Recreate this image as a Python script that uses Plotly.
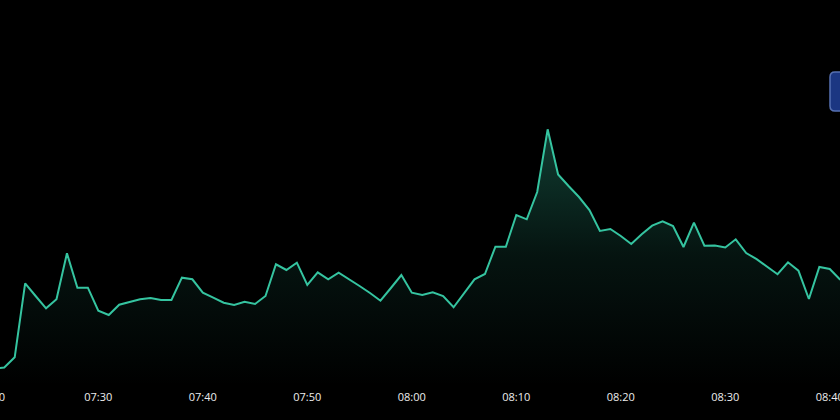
import pandas as pd
import plotly.graph_objects as go

# ---- data ----
start_time = "2024-01-01 07:20"
values = [16.0, 17.5, 27.7, 101.7, 89.0, 76.7, 85.7, 131.7, 97.3, 97.3,
          74.3, 70.0, 80.3, 83.0, 85.7, 87.0, 85.0, 85.0, 107.3, 105.7,
          92.3, 87.3, 82.3, 80.0, 83.3, 81.0, 89.0, 120.7, 115.0, 122.3,
          100.0, 112.7, 105.7, 112.3, 106.0, 99.0, 92.0, 84.3, 97.0, 110.0,
          92.3, 90.0, 92.7, 89.0, 77.7, 92.0, 105.7, 111.0, 138.3, 138.3,
          170.0, 165.7, 193.0, 255.7, 210.5, 199.0, 188.0, 175.0, 154.0, 156.0,
          149.0, 141.0, 150.7, 159.3, 163.7, 159.0, 138.0, 162.3, 139.3, 139.5,
          137.5, 145.7, 132.0, 125.8, 118.5, 110.8, 122.7, 114.3, 86.0, 118.0,
          116.0, 105.3]
times = pd.date_range(start_time, periods=len(values), freq="1min")
edge_label = "07:20"

line_color = "#35c4a0"
label_color = "#ededed"

fig = go.Figure()
fig.add_trace(go.Scatter(
    x=times, y=values, mode="lines",
    line=dict(color=line_color, width=2),
    fill="tozeroy",
    fillgradient=dict(
        type="vertical",
        start=0, stop=260,
        colorscale=[[0, "rgba(53,196,160,0)"], [0.5, "rgba(53,196,160,0.10)"], [1, "rgba(53,196,160,0.32)"]],
    ),
    hoverinfo="skip",
    showlegend=False,
))

x0 = pd.Timestamp(start_time) + pd.Timedelta(seconds=35.6)
x1 = pd.Timestamp(start_time) + pd.Timedelta(seconds=80 * 60 + 58.6)

fig.update_layout(
    width=840, height=420,
    margin=dict(l=0, r=0, t=0, b=35),
    paper_bgcolor="#000000", plot_bgcolor="#000000",
    font=dict(family="Open Sans", color=label_color, size=11),
    xaxis=dict(
        range=[x0, x1], type="date", dtick=600000, tickformat="%H:%M",
        showgrid=False, zeroline=False, showline=False, ticks="",
        ticklabeloverflow="allow", automargin=False, ticklabelstandoff=4,
        tickfont=dict(size=11, color=label_color),
    ),
    yaxis=dict(range=[0, 385], visible=False, showgrid=False, zeroline=False),
    showlegend=False,
)

# partially visible first tick label at the left edge
fig.add_annotation(
    x=-9.5 / 840, y=0, xref="paper", yref="paper", yanchor="top", xanchor="center",
    text=edge_label, showarrow=False, yshift=-2,
    font=dict(size=11, color=label_color, family="Open Sans"),
)

# partially visible blue button at top-right
bx0, bx1 = 830 / 840, 1.05
by1, by0 = (385 - 72) / 385, (385 - 111) / 385
rx, ry = 5 / 840, 5 / 385
path = (f"M {bx0+rx},{by1} L {bx1},{by1} L {bx1},{by0} L {bx0+rx},{by0} "
        f"Q {bx0},{by0} {bx0},{by0+ry} L {bx0},{by1-ry} Q {bx0},{by1} {bx0+rx},{by1} Z")
fig.add_shape(type="path", path=path, xref="paper", yref="paper",
              fillcolor="#1b3682", line=dict(color="#5670b2", width=1.5), layer="above")

fig.write_html(
    "out.html",
    config={"displayModeBar": False},
    post_script="document.body.style.margin='0';document.body.style.padding='0';document.body.style.overflow='hidden';",
)
